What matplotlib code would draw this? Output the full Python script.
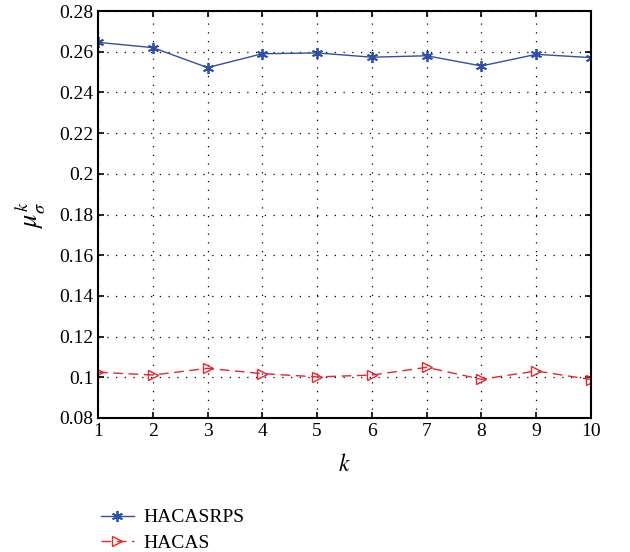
import matplotlib
matplotlib.use("Agg")
import matplotlib.pyplot as plt

k = [1, 2, 3, 4, 5, 6, 7, 8, 9, 10]
hacasrps = [0.2646, 0.2620, 0.2522, 0.2590, 0.2594, 0.2573, 0.2580, 0.2530, 0.2587, 0.2571]
hacas = [0.1025, 0.1011, 0.1044, 0.1018, 0.1002, 0.1011, 0.1049, 0.0990, 0.1031, 0.0989]
yticks = [0.08, 0.1, 0.12, 0.14, 0.16, 0.18, 0.2, 0.22, 0.24, 0.26, 0.28]
ytick_labels = ["0.08", "0.1", "0.12", "0.14", "0.16", "0.18", "0.2", "0.22", "0.24", "0.26", "0.28"]

plt.rcParams["font.family"] = ["Liberation Serif", "DejaVu Serif"]
plt.rcParams["mathtext.fontset"] = "stix"

fig = plt.figure(figsize=(6.3, 5.52), dpi=100)
ax = fig.add_axes([98 / 630, 1 - 418 / 552, 493 / 630, 407 / 552])

ax.plot(k, hacasrps, color="#2f4fa8", linewidth=1.0, marker=(6, 2, 0), markersize=8,
        markeredgewidth=1.3, label="HACASRPS")
ax.plot(k, hacas, color="#e8242c", linewidth=1.0, linestyle=(0, (7, 4)), marker=">",
        markersize=7, markerfacecolor="none", markeredgewidth=1.0, label="HACAS")

ax.set_xlim(1, 10)
ax.set_ylim(0.08, 0.28)
ax.set_xticks(k)
ax.set_yticks(yticks)
ax.set_yticklabels(ytick_labels)
ax.tick_params(direction="in", labelsize=14, top=True, right=True, length=4, width=1.2)
ax.grid(True, color="black", linestyle=(0, (1, 6)), linewidth=0.9)
for s in ax.spines.values():
    s.set_linewidth(1.5)

ax.set_xlabel("$k$", fontsize=17, labelpad=10)
ax.set_ylabel(r"$\mu_\sigma^k$", fontsize=19, labelpad=8)

ax.legend(loc="upper left", bbox_to_anchor=(-0.03, -0.18), frameon=False, fontsize=14,
          handlelength=1.7, handletextpad=0.5, labelspacing=0.4, numpoints=1)

fig.savefig("out.png", dpi=100)
